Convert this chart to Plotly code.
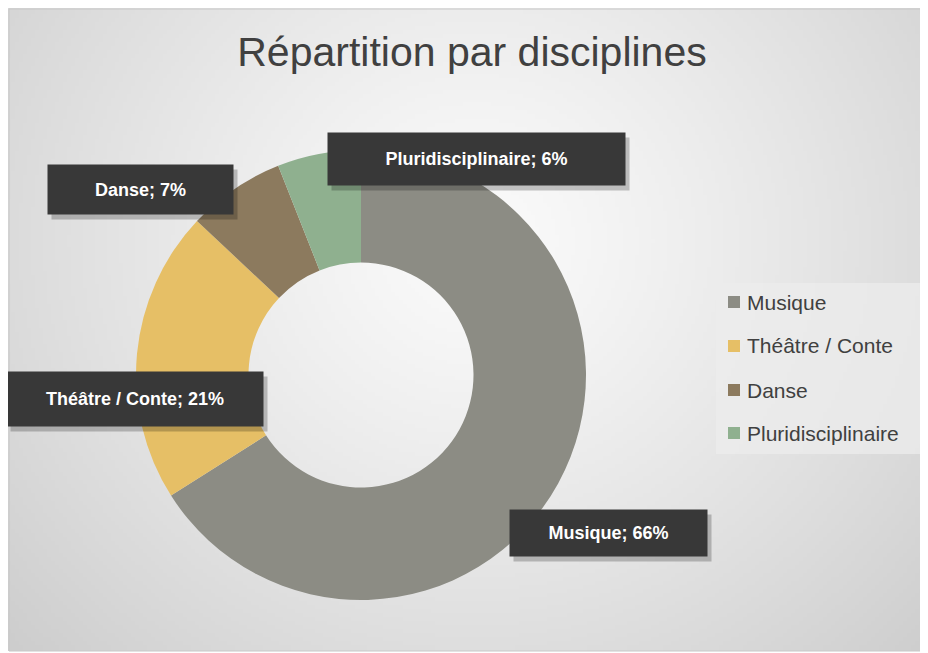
import base64, struct, zlib
import numpy as np
import plotly.graph_objects as go

# ---- data ----
categories = ["Musique", "Théâtre / Conte", "Danse", "Pluridisciplinaire"]
values = [66, 21, 7, 6]
colors = ["#8c8c84", "#e6bf66", "#8c7a5e", "#8fb08f"]
title_text = "Répartition par disciplines"

W, H = 928, 653
OFF = 8  # page body margin

# label boxes: centre (px) and size (px)
label_pos = {
    "Musique": (608, 533, 197, 46),
    "Théâtre / Conte": (135, 399, 256, 54),
    "Danse": (140, 189, 185, 49),
    "Pluridisciplinaire": (476, 159, 297, 52),
}


def px(x):
    return (x - OFF) / W


def py(y):
    return (H - (y - OFF)) / H


# ---- radial gradient background as PNG ----
def png_uri(arr):
    h, w, _ = arr.shape
    raw = b"".join(b"\x00" + arr[i].tobytes() for i in range(h))

    def chunk(t, d):
        c = struct.pack(">I", len(d)) + t + d
        return c + struct.pack(">I", zlib.crc32(t + d) & 0xFFFFFFFF)

    data = b"\x89PNG\r\n\x1a\n" + chunk(b"IHDR", struct.pack(">IIBBBBB", w, h, 8, 2, 0, 0, 0))
    data += chunk(b"IDAT", zlib.compress(raw, 9)) + chunk(b"IEND", b"")
    return "data:image/png;base64," + base64.b64encode(data).decode()


fw, fh = 230, 160
yy, xx = np.mgrid[0:fh, 0:fw].astype(float)
cx, cy = fw * 0.51, fh * 0.36
d = np.sqrt(((xx - cx) / fw) ** 2 + ((yy - cy) / fh) ** 2 * 0.55)
d = d / d.max()
v = 251 - 46 * d ** 1.2
img = np.clip(np.stack([v, v, v], axis=-1), 0, 255).astype(np.uint8)
bg_uri = png_uri(img)

fig = go.Figure()
fig.add_trace(go.Pie(
    labels=categories, values=values, sort=False, direction="clockwise",
    hole=0.5, marker=dict(colors=colors, line=dict(width=0)),
    textinfo="none", hoverinfo="label+percent", showlegend=False,
    domain=dict(x=[px(136), px(586)], y=[py(600), py(150)]),
))

annotations = []
shapes = []
total = sum(values)
for cat, val in zip(categories, values):
    x, y, bw, bh = label_pos[cat]
    txt = f"{cat}; {round(val / total * 100)}%"
    # shadow
    annotations.append(dict(
        x=px(x), y=py(y), xref="paper", yref="paper", showarrow=False,
        xanchor="center", yanchor="middle",
        text=" ", width=bw, height=bh, borderpad=0,
        bgcolor="rgba(0,0,0,0.22)", xshift=4, yshift=-5,
    ))
    annotations.append(dict(
        x=px(x), y=py(y), xref="paper", yref="paper", showarrow=False,
        xanchor="center", yanchor="middle",
        text=f"<b>{txt}</b>", width=bw, height=bh, borderpad=0,
        bgcolor="#383838", font=dict(family="Liberation Sans, Arial, sans-serif", size=18, color="#ffffff"),
    ))

# manual legend (built from the categories/colors lists)
leg_x0, leg_y0, leg_x1, leg_y1 = 716, 283, 925, 454
shapes.append(dict(type="rect", xref="paper", yref="paper",
                   x0=px(leg_x0), x1=px(leg_x1), y0=py(leg_y1), y1=py(leg_y0),
                   fillcolor="rgba(236,236,236,0.75)", line=dict(width=0), layer="below"))
row_y = [302, 346, 390, 433]
for cat, col, ry in zip(categories, colors, row_y):
    shapes.append(dict(type="rect", xref="paper", yref="paper",
                       x0=px(728), x1=px(740), y0=py(ry + 6), y1=py(ry - 6),
                       fillcolor=col, line=dict(width=0)))
    annotations.append(dict(
        x=px(745), y=py(ry), xref="paper", yref="paper", showarrow=False,
        xanchor="left", yanchor="middle", text=cat,
        font=dict(family="Liberation Sans, Arial, sans-serif", size=21, color="#404040"),
    ))

# frame border
shapes.append(dict(type="rect", xref="paper", yref="paper",
                   x0=px(9), x1=px(925), y0=py(651), y1=py(9),
                   line=dict(color="#c8c8c8", width=1), fillcolor="rgba(0,0,0,0)", layer="below"))

fig.update_layout(
    width=W, height=H,
    margin=dict(l=0, r=0, t=0, b=0),
    paper_bgcolor="#ffffff", plot_bgcolor="rgba(0,0,0,0)",
    title=dict(text=title_text, x=px(472), xanchor="center", y=py(52), yanchor="middle",
               font=dict(family="Liberation Sans, Arial, sans-serif", size=41, color="#404040")),
    images=[dict(source=bg_uri, xref="paper", yref="paper", x=px(5), y=py(8),
                 sizex=px(925) - px(5), sizey=py(8) - py(651), sizing="stretch",
                 xanchor="left", yanchor="top", layer="below")],
    annotations=annotations, shapes=shapes,
)

fig.write_html("out.html")
